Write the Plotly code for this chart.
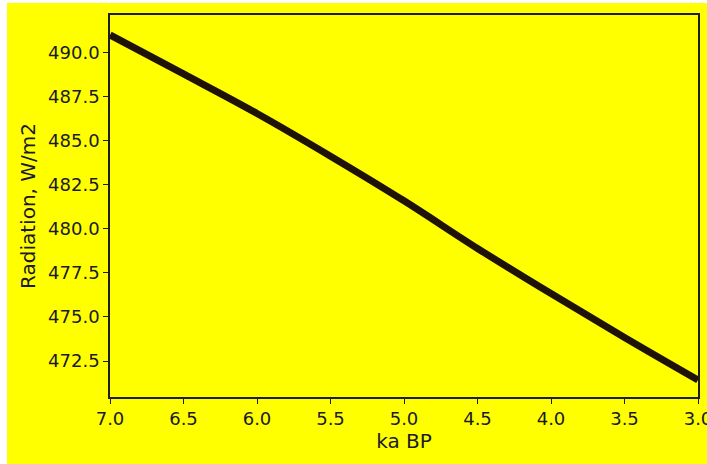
import plotly.graph_objects as go

ka_bp = [7.0, 6.5, 6.0, 5.5, 5.0, 4.5, 4.0, 3.5, 3.0]
radiation = [490.98, 488.77, 486.53, 484.11, 481.58, 478.88, 476.32, 473.83, 471.42]

y_ticks = [472.5, 475.0, 477.5, 480.0, 482.5, 485.0, 487.5, 490.0]
x_ticks = [7.0, 6.5, 6.0, 5.5, 5.0, 4.5, 4.0, 3.5, 3.0]

# figure occupies the page minus a 7px white strip at left and 3px at top
OFF_X, OFF_Y = 7, 3
W, H = 707 - OFF_X, 464 - OFF_Y
L, R, T, B = 110 - OFF_X, 9.3, 15 - OFF_Y, 67

fig = go.Figure()
fig.add_trace(go.Scatter(
    x=ka_bp, y=radiation, mode="lines",
    line=dict(color="#1f1206", width=7, shape="spline"),
    hoverinfo="skip", showlegend=False,
))

axis_col = "#1e1e1e"
font_col = "#1a1a2a"
common = dict(
    showgrid=False, zeroline=False, showline=True, linecolor=axis_col,
    linewidth=1.6, mirror=True, ticks="outside", ticklen=5, tickwidth=1.2,
    tickcolor=axis_col, ticklabeloverflow="allow", automargin=False,
    tickfont=dict(family="DejaVu Sans", size=18, color=font_col),
)
fig.update_xaxes(
    range=[7.0, 3.0], tickvals=x_ticks, ticktext=[f"{v:.1f}" for v in x_ticks],
    title=dict(text="ka BP", font=dict(family="DejaVu Sans", size=20, color=font_col), standoff=5),
    **common,
)
fig.update_yaxes(
    range=[470.46, 492.11], tickvals=y_ticks, ticktext=[f"{v:.1f}" for v in y_ticks],
    title=dict(text="Radiation, W/m2", font=dict(family="DejaVu Sans", size=20, color=font_col), standoff=7),
    **common,
)

fig.update_layout(
    width=W, height=H, autosize=False,
    margin=dict(l=L, r=R, t=T, b=B, pad=0, autoexpand=False),
    paper_bgcolor="#ffff00", plot_bgcolor="#ffff00",
)

fig.write_html(
    "out.html",
    div_id="chart",
    post_script=(
        "document.documentElement.style.overflow='hidden';"
        "document.body.style.overflow='hidden';"
        "document.body.style.margin='0';"
        "document.body.style.background='white';"
        "var d=document.getElementById('chart');"
        f"d.style.marginLeft='{OFF_X}px';d.style.marginTop='{OFF_Y}px';"
    ),
)
